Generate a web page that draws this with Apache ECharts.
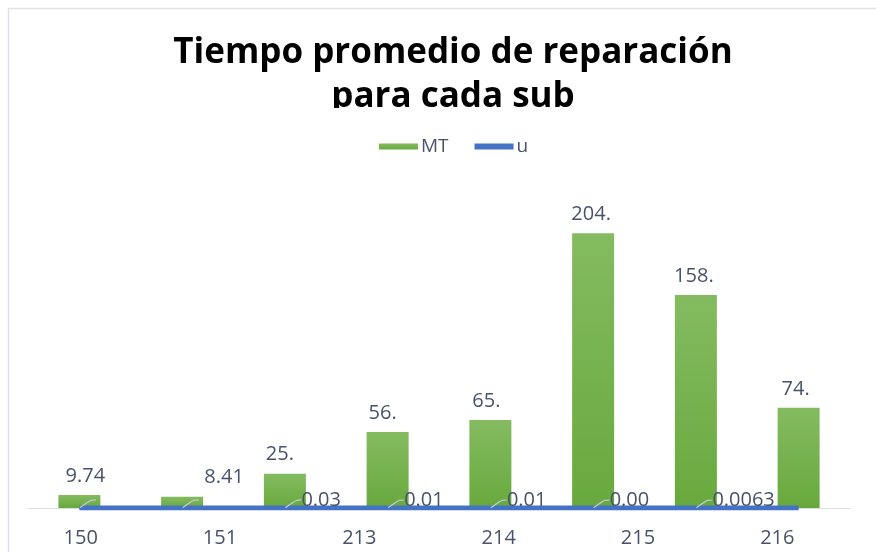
<!DOCTYPE html>
<html>
<head>
<meta charset="utf-8">
<script src="https://cdn.jsdelivr.net/npm/echarts@6/dist/echarts.min.js"></script>
<style>
html,body{margin:0;padding:0;background:#fff;}
#c{width:876px;height:552px;}
</style>
</head>
<body>
<div id="c"></div>
<script>
// ---- data ----
var barCats = ['1', '2', '3', '4', '5', '6', '7', '8'];
var mtValues = [9.74, 8.41, 25.5, 56.5, 65.5, 204.5, 158.5, 74.5];
var mtLabels = ['9.74', '8.41', '25.', '56.', '65.', '204.', '158.', '74.'];
var uValues = [0.02, 0.02, 0.03, 0.01, 0.01, 0.004, 0.0063, 0.005];
var uLabels = [' ', ' ', '0.03', '0.01', '0.01', '0.00', '0.0063', null];
var xLabels = ['150', '151', '213', '214', '215', '216'];

var textColor = '#48536a';
var mtOffsets = [[6, 0], [42, 0], [-5, 0], [-5, 0], [-4, 0], [-2, 0], [-2, 0], [-3, 0]];

var chart = echarts.init(document.getElementById('c'));

var barData = mtValues.map(function (v, i) {
  return { value: v, label: { offset: mtOffsets[i] } };
});
var lineData = uValues.map(function (v, i) {
  return { value: v, label: { show: uLabels[i] !== null } };
});

var option = {
  backgroundColor: '#fff',
  animation: false,
  title: {
    text: 'Tiempo promedio de reparación\npara cada sub',
    left: 448,
    top: 26,
    textAlign: 'center',
    textStyle: {
      fontFamily: 'Open Sans',
      fontWeight: 'bold',
      fontSize: 35,
      lineHeight: 44,
      color: '#000'
    }
  },
  legend: {
    top: 132,
    left: 374,
    itemWidth: 39,
    itemHeight: 6,
    itemGap: 26,
    textStyle: { fontFamily: 'Open Sans', fontSize: 19, color: textColor, padding: [0, 0, 0, -2] },
    data: [
      { name: 'MT', icon: 'rect' },
      { name: 'u', icon: 'rect' }
    ]
  },
  grid: [
    { left: 28, right: 26, top: 172, bottom: 44 },
    { left: 11, right: 29, top: 172, bottom: 44 }
  ],
  xAxis: [
    {
      type: 'category',
      gridIndex: 0,
      data: barCats,
      axisLine: { lineStyle: { color: '#d9dde3', width: 1 } },
      axisTick: { show: false },
      axisLabel: { show: false }
    },
    {
      type: 'category',
      gridIndex: 1,
      data: xLabels,
      axisLine: { show: false },
      axisTick: { show: false },
      axisLabel: { margin: 20, fontFamily: 'Open Sans', fontSize: 20, color: textColor }
    }
  ],
  yAxis: [
    { type: 'value', gridIndex: 0, min: 0, max: 250, show: false, splitLine: { show: false } },
    { type: 'value', gridIndex: 1, min: 0, max: 250, show: false, splitLine: { show: false } }
  ],
  series: [
    {
      name: 'MT',
      type: 'bar',
      xAxisIndex: 0,
      yAxisIndex: 0,
      barWidth: 42,
      data: barData,
      itemStyle: {
        color: new echarts.graphic.LinearGradient(0, 0, 0, 1, [
          { offset: 0, color: '#84bb60' },
          { offset: 1, color: '#68a93d' }
        ])
      },
      label: {
        show: true,
        position: 'top',
        distance: 9,
        fontFamily: 'Open Sans',
        fontSize: 20,
        color: textColor,
        formatter: function (p) { return mtLabels[p.dataIndex]; }
      },
      z: 2
    },
    {
      name: 'u',
      type: 'line',
      xAxisIndex: 0,
      yAxisIndex: 0,
      data: lineData,
      symbol: 'circle',
      symbolSize: 1,
      showSymbol: true,
      lineStyle: { color: '#4472c4', width: 5 },
      itemStyle: { color: '#4472c4' },
      label: {
        show: true,
        position: 'right',
        distance: 0,
        fontFamily: 'Open Sans',
        fontSize: 20,
        color: textColor,
        padding: [0, 0, 0, 0],
        formatter: function (p) { return uLabels[p.dataIndex]; }
      },
      labelLayout: { dx: 16, dy: -8 },
      labelLine: {
        show: true,
        length2: 5,
        smooth: 0.3,
        lineStyle: { color: '#c4c8cc', width: 1.2 }
      },
      z: 5
    }
  ],
  graphic: [
    {
      type: 'rect',
      shape: { x: 8.5, y: 8.5, width: 900, height: 600 },
      style: { fill: null, stroke: '#dde1e6', lineWidth: 1.5 },
      z: 0,
      silent: true
    },
    {
      type: 'rect',
      shape: { x: 300, y: 108, width: 300, height: 22 },
      style: { fill: '#ffffff' },
      z: 100,
      silent: true
    }
  ]
};
chart.setOption(option);
</script>
</body>
</html>
